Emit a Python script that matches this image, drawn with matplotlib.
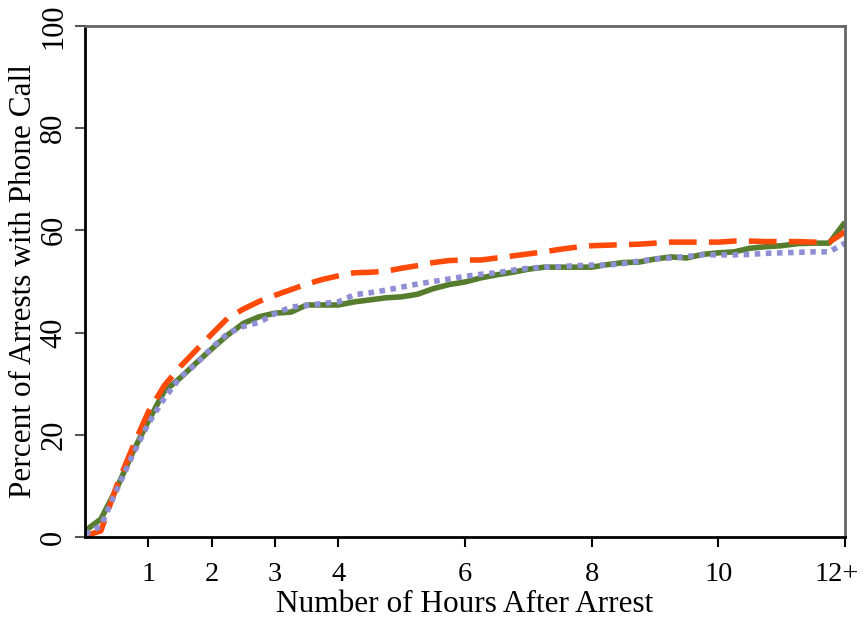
import numpy as np
import matplotlib
matplotlib.use("Agg")
import matplotlib.pyplot as plt
from matplotlib.transforms import ScaledTranslation

plt.rcParams["font.family"] = ["Liberation Serif", "DejaVu Serif"]

# hours after arrest, in quarter-hour steps; the last point is the 12+ bin
hours = np.arange(0, 12.01, 0.25)

pct_solid = [1.2, 3.5, 9.5, 16.5, 22.7, 28.5, 31.1, 34.0, 36.8, 39.5, 41.8, 43.1,
             43.8, 44.0, 45.4, 45.4, 45.4, 46.0, 46.4, 46.8, 47.0, 47.5, 48.6, 49.4,
             49.9, 50.7, 51.3, 51.8, 52.4, 52.8, 52.8, 52.8, 52.8, 53.3, 53.7, 53.8,
             54.4, 54.8, 54.6, 55.3, 55.6, 55.8, 56.5, 56.8, 57.0, 57.4, 57.5, 57.5,
             61.6]
pct_dashed = [0.2, 1.2, 10.0, 17.5, 24.5, 29.6, 33.3, 36.5, 39.7, 42.8, 44.6, 46.1,
              47.3, 48.4, 49.5, 50.4, 51.1, 51.7, 51.8, 52.0, 52.6, 53.1, 53.7, 54.1,
              54.2, 54.2, 54.6, 55.0, 55.4, 55.8, 56.3, 56.7, 57.0, 57.1, 57.2, 57.3,
              57.5, 57.7, 57.7, 57.7, 57.7, 57.9, 57.9, 57.8, 57.8, 57.8, 57.7, 57.7,
              59.7]
pct_dotted = [0.5, 2.2, 9.2, 16.0, 22.2, 27.1, 31.2, 33.8, 37.0, 39.8, 41.2, 42.0,
              43.7, 45.0, 45.3, 45.7, 46.0, 47.4, 47.8, 48.3, 48.9, 49.5, 50.0, 50.5,
              51.0, 51.4, 51.7, 52.2, 52.6, 52.8, 52.9, 53.1, 53.2, 53.2, 53.5, 54.0,
              54.4, 54.6, 54.9, 55.2, 55.2, 55.2, 55.3, 55.5, 55.6, 55.7, 55.8, 55.8,
              57.5]

xticks = [1, 2, 3, 4, 6, 8, 10, 12]
xticklabels = ["1", "2", "3", "4", "6", "8", "10", "12+"]
yticks = [0, 20, 40, 60, 80, 100]

fig = plt.figure(figsize=(8.65, 6.18), dpi=100)
ax = fig.add_axes([0.0983, 0.1311, 0.8786, 0.8269])

ax.plot(hours, pct_solid, color="#567d2e", lw=4, solid_capstyle="butt")
ax.plot(hours, pct_dashed, color="#ff4a0a", lw=4, dashes=(5, 2.2))
ax.plot(hours, pct_dotted, color="#8f8fd6", lw=4, dashes=(1.0, 1.0))

ax.set_xlim(0, 12)
ax.set_ylim(0, 100)
ax.set_xticks(xticks)
ax.set_xticklabels(xticklabels)
ax.set_yticks(yticks)
ax.set_yticklabels([str(v) for v in yticks], rotation=90, va="center")

ax.tick_params(axis="both", direction="out", length=7, width=1.5)
ax.tick_params(axis="x", colors="black", labelsize=20.5, pad=11)
ax.tick_params(axis="y", colors="#555555", labelcolor="black", labelsize=22, pad=5)

# keep "12+" inside the figure edge
last = ax.get_xticklabels()[-1]
last.set_transform(last.get_transform() + ScaledTranslation(-6 / 72, 0, fig.dpi_scale_trans))

for side in ("left", "bottom"):
    ax.spines[side].set_linewidth(2)
    ax.spines[side].set_color("black")
for side in ("top", "right"):
    ax.spines[side].set_linewidth(2)
    ax.spines[side].set_color("#666666")

ax.set_xlabel("Number of Hours After Arrest", fontsize=22.5, labelpad=2)
ax.set_ylabel("Percent of Arrests with Phone Call", fontsize=22.5, labelpad=1)

fig.savefig("out.png", dpi=100)
